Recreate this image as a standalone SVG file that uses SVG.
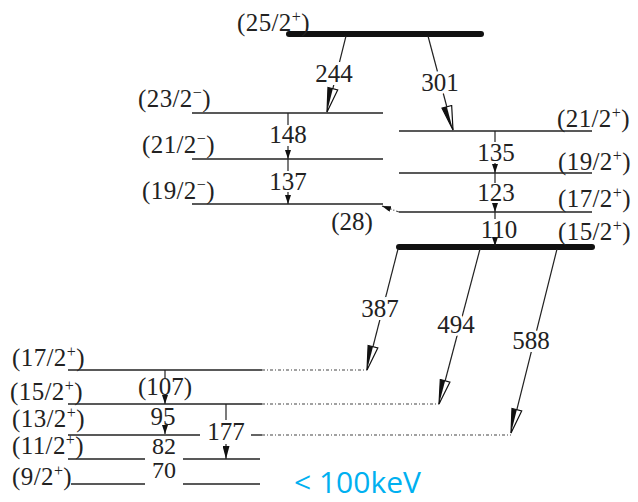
<svg xmlns="http://www.w3.org/2000/svg" width="638" height="502" viewBox="0 0 638 502">
<defs>
<marker id="bigHead" viewBox="0 0 26 12" markerWidth="26" markerHeight="12" refX="25" refY="6" orient="auto" markerUnits="userSpaceOnUse">
<path d="M1,1 L25,6 L1,11 Z" fill="#fff" stroke="#111" stroke-width="1.2"/>
<path d="M1,6 L25,6 L1,11 Z" fill="#111"/>
</marker>
<marker id="smHead" viewBox="0 0 9 6" markerWidth="9" markerHeight="6" refX="9" refY="3" orient="auto" markerUnits="userSpaceOnUse">
<path d="M0,0 L9,3 L0,6 Z" fill="#111"/>
</marker>
<marker id="smHead2" viewBox="0 0 13 7" markerWidth="13" markerHeight="7" refX="13" refY="3.5" orient="auto" markerUnits="userSpaceOnUse">
<path d="M0,0 L13,3.5 L0,7 Z" fill="#111"/>
</marker>
</defs>
<rect width="638" height="502" fill="#fff"/>

<!-- levels -->
<g id="L25_2p"><line stroke="#111" stroke-width="6" stroke-linecap="round" x1="289" y1="34" x2="481" y2="34"/><text font-family="Liberation Serif" font-size="25" letter-spacing="0.4" fill="#222" x="237" y="31">(25/2<tspan dy="-9" font-size="16">+</tspan><tspan dy="9">)</tspan></text></g>
<g id="L23_2m"><line stroke="#222" stroke-width="1.4" x1="192" y1="113" x2="383" y2="113"/><text font-family="Liberation Serif" font-size="25" letter-spacing="0.4" fill="#222" x="138" y="107">(23/2<tspan dy="-9" font-size="16">−</tspan><tspan dy="9">)</tspan></text></g>
<g id="L21_2m"><line stroke="#222" stroke-width="1.4" x1="192" y1="159" x2="383" y2="159"/><text font-family="Liberation Serif" font-size="25" letter-spacing="0.4" fill="#222" x="142" y="153">(21/2<tspan dy="-9" font-size="16">−</tspan><tspan dy="9">)</tspan></text></g>
<g id="L19_2m"><line stroke="#222" stroke-width="1.4" x1="192" y1="204" x2="383" y2="204"/><text font-family="Liberation Serif" font-size="25" letter-spacing="0.4" fill="#222" x="142" y="199">(19/2<tspan dy="-9" font-size="16">−</tspan><tspan dy="9">)</tspan></text></g>
<g id="L21_2p"><line stroke="#222" stroke-width="1.4" x1="399" y1="131" x2="592" y2="131"/><text font-family="Liberation Serif" font-size="25" letter-spacing="0.4" fill="#222" x="557" y="127">(21/2<tspan dy="-9" font-size="16">+</tspan><tspan dy="9">)</tspan></text></g>
<g id="L19_2p"><line stroke="#222" stroke-width="1.4" x1="399" y1="173" x2="592" y2="173"/><text font-family="Liberation Serif" font-size="25" letter-spacing="0.4" fill="#222" x="558" y="170">(19/2<tspan dy="-9" font-size="16">+</tspan><tspan dy="9">)</tspan></text></g>
<g id="L17_2p"><line stroke="#222" stroke-width="1.4" x1="399" y1="212" x2="592" y2="212"/><text font-family="Liberation Serif" font-size="25" letter-spacing="0.4" fill="#222" x="558" y="207">(17/2<tspan dy="-9" font-size="16">+</tspan><tspan dy="9">)</tspan></text></g>
<g id="L15_2p"><line stroke="#111" stroke-width="6" stroke-linecap="round" x1="399" y1="247" x2="592" y2="247"/><text font-family="Liberation Serif" font-size="25" letter-spacing="0.4" fill="#222" x="558" y="240">(15/2<tspan dy="-9" font-size="16">+</tspan><tspan dy="9">)</tspan></text></g>

<g id="B17_2p"><line stroke="#222" stroke-width="1.4" x1="68" y1="370" x2="262" y2="370"/><line stroke="#444" stroke-width="1.2" stroke-dasharray="3 2 1 2" x1="262" y1="370" x2="367" y2="370"/><text font-family="Liberation Serif" font-size="25" letter-spacing="0.4" fill="#222" x="12" y="366">(17/2<tspan dy="-9" font-size="16">+</tspan><tspan dy="9">)</tspan></text></g>
<g id="B15_2p"><line stroke="#222" stroke-width="1.4" x1="68" y1="404" x2="262" y2="404"/><line stroke="#444" stroke-width="1.2" stroke-dasharray="3 2 1 2" x1="262" y1="404" x2="439" y2="404"/><text font-family="Liberation Serif" font-size="25" letter-spacing="0.4" fill="#222" x="10" y="400">(15/2<tspan dy="-9" font-size="16">+</tspan><tspan dy="9">)</tspan></text></g>
<g id="B13_2p"><line stroke="#222" stroke-width="1.4" x1="68" y1="435" x2="200" y2="435"/><line stroke="#222" stroke-width="1.4" x1="251" y1="435" x2="262" y2="435"/><line stroke="#444" stroke-width="1.2" stroke-dasharray="3 2 1 2" x1="262" y1="435" x2="511" y2="435"/><text font-family="Liberation Serif" font-size="25" letter-spacing="0.4" fill="#222" x="12" y="427">(13/2<tspan dy="-9" font-size="16">+</tspan><tspan dy="9">)</tspan></text></g>
<g id="B11_2p"><line stroke="#222" stroke-width="1.4" x1="68" y1="459" x2="145" y2="459"/><line stroke="#222" stroke-width="1.4" x1="183" y1="459" x2="260" y2="459"/><text font-family="Liberation Serif" font-size="25" letter-spacing="0.4" fill="#222" x="12" y="454">(11/2<tspan dy="-9" font-size="16">+</tspan><tspan dy="9">)</tspan></text></g>
<g id="B9_2p"><line stroke="#222" stroke-width="1.4" x1="71" y1="484" x2="145" y2="484"/><line stroke="#222" stroke-width="1.4" x1="183" y1="484" x2="260" y2="484"/><text font-family="Liberation Serif" font-size="25" letter-spacing="0.4" fill="#222" x="12" y="485">(9/2<tspan dy="-9" font-size="16">+</tspan><tspan dy="9">)</tspan></text></g>

<!-- connectors -->
<g id="connectors" stroke="#222" stroke-width="1.2" fill="none">
<line x1="346" y1="36" x2="327" y2="112" marker-end="url(#bigHead)"/>
<line x1="428" y1="36" x2="453" y2="130" marker-end="url(#bigHead)"/>
<line x1="288" y1="113" x2="288" y2="125"/><line x1="288" y1="146" x2="288" y2="159" marker-end="url(#smHead)"/>
<line x1="288" y1="159" x2="288" y2="171"/><line x1="288" y1="192" x2="288" y2="204" marker-end="url(#smHead)"/>
<line x1="495" y1="131" x2="495" y2="142"/><line x1="495" y1="163" x2="495" y2="173" marker-end="url(#smHead)"/>
<line x1="495" y1="173" x2="495" y2="183"/><line x1="495" y1="203" x2="495" y2="212" marker-end="url(#smHead)"/>
<line x1="495" y1="212" x2="495" y2="219"/><line x1="495" y1="240" x2="495" y2="246" marker-end="url(#smHead)"/>
<line stroke="#444" stroke-dasharray="3 2 1 2" x1="399" y1="212" x2="382" y2="206" marker-end="url(#smHead)"/>
<line x1="398" y1="249" x2="367" y2="370" marker-end="url(#bigHead)"/>
<line x1="480" y1="249" x2="439" y2="404" marker-end="url(#bigHead)"/>
<line x1="557" y1="249" x2="511" y2="433" marker-end="url(#bigHead)"/>
<line x1="165" y1="370" x2="165" y2="378"/><line x1="165" y1="398" x2="165" y2="404" marker-end="url(#smHead)"/>
<line x1="165" y1="429" x2="165" y2="434" marker-end="url(#smHead)"/>
<line x1="226" y1="404" x2="226" y2="420"/><line x1="226" y1="444" x2="226" y2="459" marker-end="url(#smHead2)"/>
</g>

<!-- transition labels -->
<g id="labels">
<text font-family="Liberation Serif" font-size="25" text-anchor="middle" fill="#222" stroke="#fff" stroke-width="6" paint-order="stroke" x="334" y="82">244</text>
<text font-family="Liberation Serif" font-size="25" text-anchor="middle" fill="#222" stroke="#fff" stroke-width="6" paint-order="stroke" x="440" y="91">301</text>
<text font-family="Liberation Serif" font-size="25" text-anchor="middle" fill="#222" x="288" y="143">148</text>
<text font-family="Liberation Serif" font-size="25" text-anchor="middle" fill="#222" x="288" y="190">137</text>
<text font-family="Liberation Serif" font-size="25" text-anchor="middle" fill="#222" x="496" y="161">135</text>
<text font-family="Liberation Serif" font-size="25" text-anchor="middle" fill="#222" x="496" y="201">123</text>
<text font-family="Liberation Serif" font-size="25" text-anchor="middle" fill="#222" x="499" y="238">110</text>
<text font-family="Liberation Serif" font-size="25" text-anchor="middle" fill="#222" x="352" y="230">(28)</text>
<text font-family="Liberation Serif" font-size="25" text-anchor="middle" fill="#222" stroke="#fff" stroke-width="6" paint-order="stroke" x="380" y="317">387</text>
<text font-family="Liberation Serif" font-size="25" text-anchor="middle" fill="#222" stroke="#fff" stroke-width="6" paint-order="stroke" x="456" y="333">494</text>
<text font-family="Liberation Serif" font-size="25" text-anchor="middle" fill="#222" stroke="#fff" stroke-width="6" paint-order="stroke" x="531" y="349">588</text>
<text font-family="Liberation Serif" font-size="25" text-anchor="middle" fill="#222" x="165" y="395">(107)</text>
<text font-family="Liberation Serif" font-size="25" text-anchor="middle" fill="#222" x="163" y="425">95</text>
<text font-family="Liberation Serif" font-size="24" text-anchor="middle" fill="#222" x="164" y="454">82</text>
<text font-family="Liberation Serif" font-size="24" text-anchor="middle" fill="#222" x="164" y="478">70</text>
<text font-family="Liberation Serif" font-size="25" text-anchor="middle" fill="#222" x="226" y="440">177</text>
</g>

<text font-family="Open Sans" font-size="30" fill="#00B0F0" x="294" y="493">&lt; 100keV</text>
</svg>
